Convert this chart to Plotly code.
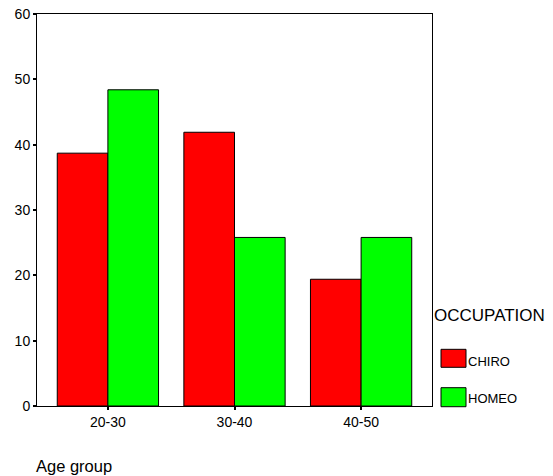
import plotly.graph_objects as go

categories = ["20-30", "30-40", "40-50"]
chiro = [38.7, 41.9, 19.4]
homeo = [48.4, 25.8, 25.8]
series_names = ["CHIRO", "HOMEO"]
series_colors = ["#ff0000", "#00ff00"]
y_ticks = [0, 10, 20, 30, 40, 50, 60]

FONT = "Liberation Sans, Arial, sans-serif"

fig = go.Figure()
for name, vals, col in zip(series_names, [chiro, homeo], series_colors):
    fig.add_trace(go.Bar(x=categories, y=vals, name=name,
                         marker=dict(color=col, line=dict(color="black", width=1)),
                         showlegend=False))

# page body has an 8px margin, so the figure is offset by 8px
fig.update_layout(
    width=545, height=468,
    margin=dict(l=29, r=121, t=6, b=70, autoexpand=False),
    paper_bgcolor="white", plot_bgcolor="white",
    barmode="group", bargap=0.2, bargroupgap=0,
    font=dict(family=FONT, color="black", size=14),
)
fig.update_xaxes(range=[-0.56, 2.56], showline=True, linecolor="black", linewidth=1,
                 mirror=True, ticks="outside", ticklen=3, tickwidth=2, tickcolor="black",
                 showgrid=False, tickfont=dict(size=14), automargin=False,
                 ticklabeloverflow="allow")
fig.update_yaxes(range=[0, 60], tickvals=y_ticks, showline=True, linecolor="black", linewidth=1,
                 mirror=True, ticks="outside", ticklen=3, tickwidth=2, tickcolor="black",
                 showgrid=False, zeroline=False, tickfont=dict(size=14), automargin=False,
                 ticklabeloverflow="allow")

# axis title
fig.add_annotation(text="Age group", xref="paper", yref="paper", x=-0.008, y=-0.153,
                   xanchor="left", yanchor="middle", showarrow=False, font=dict(size=16.5))

# custom legend
fig.add_annotation(text="OCCUPATION", xref="paper", yref="paper", x=1.0, y=0.232,
                   xanchor="left", yanchor="middle", showarrow=False, font=dict(size=17))
legend_rows = [(0.0987, 0.1446, 0.113), (-0.0018, 0.0467, 0.0179)]
for (y0, y1, yt), name, col in zip(legend_rows, series_names, series_colors):
    fig.add_shape(type="rect", xref="paper", yref="paper", x0=1.0228, x1=1.0861, y0=y0, y1=y1,
                  fillcolor=col, line=dict(color="black", width=1))
    fig.add_annotation(text=name, xref="paper", yref="paper", x=1.0861, y=yt,
                       xanchor="left", yanchor="middle", showarrow=False, font=dict(size=13))

fig.write_html("out.html")
